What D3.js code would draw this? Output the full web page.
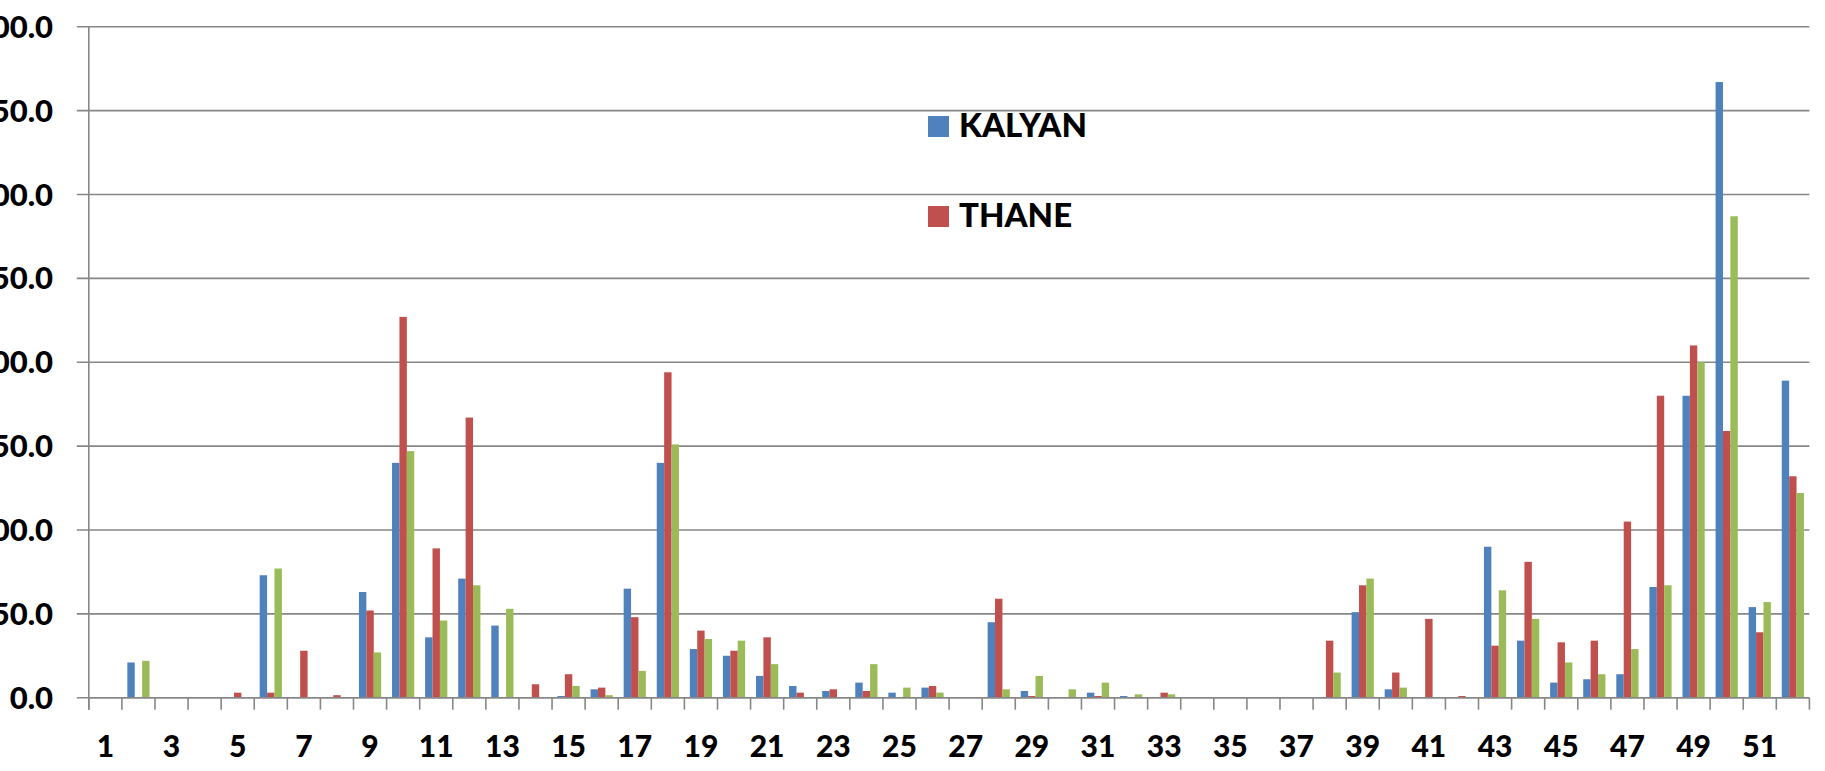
<!DOCTYPE html>
<html>
<head>
<meta charset="utf-8">
<script src="https://cdn.jsdelivr.net/npm/d3@7"></script>
<style>
  html, body { margin: 0; padding: 0; background: #fff; overflow: hidden; }
  svg { display: block; }
  text { font-family: Lato, "Open Sans", sans-serif; font-weight: 900; fill: #000; }
</style>
</head>
<body>
<svg id="chart" width="1825" height="771"></svg>
<script>
const categories = d3.range(1, 53).map(String);
const seriesNames = ["KALYAN", "THANE", "SERIES3"];
const legendNames = ["KALYAN", "THANE"];
const kalyan = [0,21,0,0,0,73,0,0,63,140,36,71,43,0,1,5,65,140,29,25,13,7,4,9,3,6,0,45,4,0,3,1,0,0,0,0,0,0,51,5,0,0,90,34,9,11,14,66,180,367,54,189];
const thane  = [0,0,0,0,3,3,28,1.5,52,227,89,167,0,8,14,6,48,194,40,28,36,3,5,4,0,7,0,59,1,0,1,0,3,0,0,0,0,34,67,15,47,1,31,81,33,34,105,180,210,159,39,132];
const series3= [0,22,0,0,0,77,0,0,27,147,46,67,53,0,7,1.5,16,151,35,34,20,0,0,20,6,3,0,5,13,5,9,2,2,0,0,0,0,15,71,6,0,0,64,47,21,14,29,67,200,287,57,122];
const yTicks = [0, 50, 100, 150, 200, 250, 300, 350, 400];
const xTickLabels = categories.filter((d, i) => i % 2 === 0);
const colors = ["#4F81BD", "#C0504D", "#9BBB59"];

const svg = d3.select("#chart");
const mLeft = 88.8, mRight = 1809.4, mTop = 26.7, mBottom = 697.7;

const x = d3.scaleBand().domain(categories).range([mLeft, mRight]).padding(0);
const x1 = d3.scaleBand().domain(seriesNames).range([0, x.bandwidth()]).paddingInner(0).paddingOuter(0.735);
const y = d3.scaleLinear().domain([0, 400]).range([mBottom, mTop]);

// gridlines + y ticks
svg.append("g").selectAll("line").data(yTicks).join("line")
  .attr("x1", mLeft - 12).attr("x2", mRight)
  .attr("y1", d => y(d)).attr("y2", d => y(d))
  .attr("stroke", "#878787").attr("stroke-width", 1.6);

// y axis line
svg.append("line").attr("x1", mLeft).attr("x2", mLeft).attr("y1", mTop).attr("y2", mBottom + 12)
  .attr("stroke", "#878787").attr("stroke-width", 1.6);

// x ticks (category boundaries)
const bounds = d3.range(0, categories.length + 1).map(i => mLeft + i * x.step());
svg.append("g").selectAll("line").data(bounds).join("line")
  .attr("x1", d => d).attr("x2", d => d)
  .attr("y1", mBottom).attr("y2", mBottom + 12)
  .attr("stroke", "#878787").attr("stroke-width", 1.6);

// y labels
svg.append("g").selectAll("text").data(yTicks).join("text")
  .attr("x", 53).attr("y", d => y(d)).attr("dy", "0.36em")
  .attr("text-anchor", "end").attr("font-size", 31)
  .text(d => d3.format(".1f")(d));

// x labels
svg.append("g").selectAll("text").data(xTickLabels).join("text")
  .attr("x", d => x(d) + x.bandwidth() / 2).attr("y", 757)
  .attr("text-anchor", "middle").attr("font-size", 30)
  .text(d => d);

// bars
const data = [kalyan, thane, series3];
data.forEach((vals, si) => {
  svg.append("g").selectAll("rect").data(vals).join("rect")
    .attr("x", (d, i) => x(categories[i]) + x1(seriesNames[si]))
    .attr("width", x1.bandwidth())
    .attr("y", d => y(d))
    .attr("height", d => mBottom - y(d))
    .attr("fill", colors[si]);
});

// redraw baseline over bars
svg.append("line").attr("x1", mLeft).attr("x2", mRight).attr("y1", mBottom).attr("y2", mBottom)
  .attr("stroke", "#878787").attr("stroke-width", 1.6);

// legend
const lg = svg.append("g");
legendNames.forEach((n, i) => {
  const yy = 116 + i * 90;
  lg.append("rect").attr("x", 928).attr("y", yy).attr("width", 21).attr("height", 21).attr("fill", colors[i]);
  lg.append("text").attr("x", 959).attr("y", yy + 21).attr("font-size", 33).text(n);
});
</script>
</body>
</html>
